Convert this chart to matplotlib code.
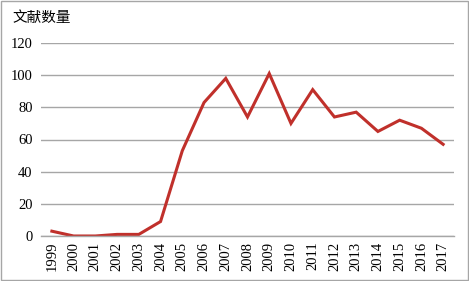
import matplotlib
matplotlib.use('Agg')
import matplotlib.pyplot as plt
from matplotlib.patches import Rectangle

years = [str(y) for y in range(1999, 2018)]
counts = [3, 0, 0, 1, 1, 9, 53, 83, 98, 74, 101, 70, 91, 74, 77, 65, 72, 67, 57]
yticks = [0, 20, 40, 60, 80, 100, 120]

plt.rcParams['font.family'] = ['Liberation Serif', 'Noto Sans CJK SC']

fig = plt.figure(figsize=(4.69, 2.81), dpi=100)
ax = fig.add_axes([41 / 469, 1 - 236 / 281, 413 / 469, 193 / 281])

x = list(range(len(years)))
ax.plot(x, counts, color='#C0302B', linewidth=2.2, solid_joinstyle='miter')

ax.set_xlim(-0.5, len(years) - 0.5)
ax.set_ylim(0, 120)
ax.set_yticks(yticks)
ax.set_yticklabels([str(v) for v in yticks], fontsize=10.5)
ax.set_xticks(x)
ax.set_xticklabels(years, rotation=90, fontsize=10.5)
ax.tick_params(length=0, pad=6)
ax.tick_params(axis='x', pad=4)
ax.yaxis.grid(True, color='#A6A6A6', linewidth=1.0)
ax.set_axisbelow(True)
for side in ['top', 'right', 'left']:
    ax.spines[side].set_visible(False)
ax.spines['bottom'].set_color('#A6A6A6')
ax.spines['bottom'].set_linewidth(1.0)

fig.text(12 / 469, 1 - 18 / 281, '文献数量', fontsize=10.5, va='center', ha='left',
         family=['Noto Sans CJK SC'])

fig.patches.append(Rectangle((0.002, 0.003), 0.995, 0.993, transform=fig.transFigure,
                             fill=False, edgecolor='#A6A6A6', linewidth=1.0))

fig.savefig('out.png', dpi=100)
